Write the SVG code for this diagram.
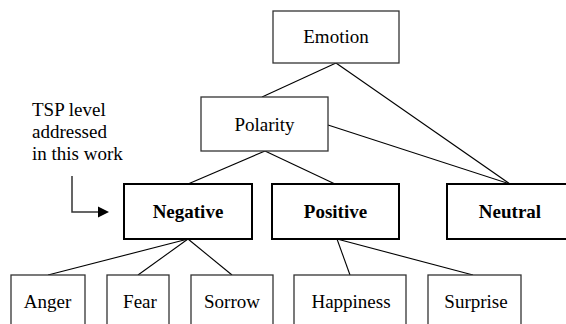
<svg xmlns="http://www.w3.org/2000/svg" width="566" height="324" viewBox="0 0 566 324">
<style>
.box{fill:#fff;stroke:#333;stroke-width:1.3}
.bold{fill:#fff;stroke:#000;stroke-width:2}
.c{stroke:#000;stroke-width:1.1;fill:none}
</style>
<g id="connectors">
<line class="c" x1="336" y1="63" x2="262" y2="97"/>
<line class="c" x1="336" y1="63" x2="510" y2="184"/>
<line class="c" x1="328" y1="125" x2="510" y2="184"/>
<line class="c" x1="265" y1="151" x2="188" y2="184"/>
<line class="c" x1="265" y1="151" x2="335" y2="184"/>
<line class="c" x1="188" y1="239" x2="48" y2="275"/>
<line class="c" x1="188" y1="239" x2="138" y2="275"/>
<line class="c" x1="188" y1="239" x2="232" y2="275"/>
<line class="c" x1="337" y1="239" x2="350" y2="275"/>
<line class="c" x1="337" y1="239" x2="473" y2="275"/>
</g>
<g font-family="'Liberation Serif', 'Times New Roman', 'DejaVu Serif', serif" font-size="19" fill="#000">
<g id="emotion"><rect class="box" x="273" y="11" width="126" height="52"/><text text-anchor="middle" x="336" y="43">Emotion</text></g>
<g id="polarity"><rect class="box" x="201" y="97" width="127" height="54"/><text text-anchor="middle" x="264.5" y="131">Polarity</text></g>
<g id="negative"><rect class="bold" x="124" y="184" width="128" height="55"/><text text-anchor="middle" font-weight="bold" x="188" y="218">Negative</text></g>
<g id="positive"><rect class="bold" x="272" y="184" width="127" height="55"/><text text-anchor="middle" font-weight="bold" x="335.5" y="218">Positive</text></g>
<g id="neutral"><rect class="bold" x="447" y="184" width="126" height="55"/><text text-anchor="middle" font-weight="bold" x="510" y="218">Neutral</text></g>
<g id="anger"><rect class="box" x="11" y="275" width="74" height="60"/><text text-anchor="middle" x="47.5" y="308">Anger</text></g>
<g id="fear"><rect class="box" x="107" y="275" width="62" height="60"/><text text-anchor="middle" x="140" y="308">Fear</text></g>
<g id="sorrow"><rect class="box" x="191" y="275" width="82" height="60"/><text text-anchor="middle" x="232" y="308">Sorrow</text></g>
<g id="happiness"><rect class="box" x="294" y="275" width="112" height="60"/><text text-anchor="middle" x="351" y="308">Happiness</text></g>
<g id="surprise"><rect class="box" x="428" y="275" width="93" height="60"/><text text-anchor="middle" x="476" y="308">Surprise</text></g>
<g id="annotation">
<text x="32" y="116">TSP level</text>
<text x="32" y="138">addressed</text>
<text x="32" y="160">in this work</text>
<polyline points="72,176 72,212 99,212" fill="none" stroke="#333" stroke-width="1.5"/>
<polygon points="109,212 98,206.5 98,217.5" fill="#000"/>
</g>
</g>
</svg>
